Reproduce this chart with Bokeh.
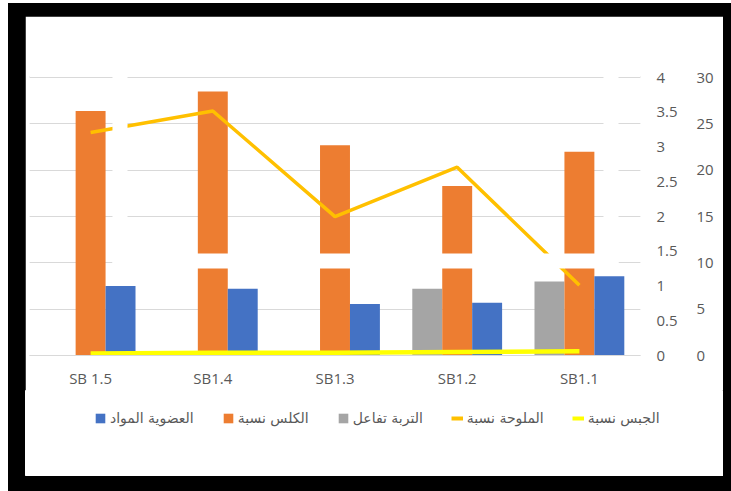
from bokeh.plotting import figure
from bokeh.models import (FactorRange, Range1d, LinearAxis, FixedTicker, Grid,
                          Legend, LegendItem, BoxAnnotation, ColumnDataSource)
from bokeh.transform import dodge
from bokeh.layouts import column
from bokeh.embed import file_html
from bokeh.resources import INLINE

# ---- data ----
categories = ["SB 1.5", "SB1.4", "SB1.3", "SB1.2", "SB1.1"]
organic = [1.00, 0.96, 0.74, 0.76, 1.14]     # blue bars, 0-4 axis
lime = [26.4, 28.5, 22.7, 18.3, 22.0]        # orange bars, 0-30 axis
ph = [0, 0, 0, 7.2, 8.0]                     # gray bars, 0-30 axis
salinity = [3.21, 3.52, 2.00, 2.71, 1.01]    # gold line, 0-4 axis
gypsum = [0.03, 0.04, 0.04, 0.05, 0.06]      # yellow line, 0-4 axis

series_labels = ["العضوية المواد", "الكلس نسبة", "التربة تفاعل", "الملوحة نسبة", "الجبس نسبة"]
series_colors = ["#4472C4", "#ED7D31", "#A5A5A5", "#FFC000", "#FFFF00"]
ticks4 = [0, 0.5, 1, 1.5, 2, 2.5, 3, 3.5, 4]
ticks30 = [0, 5, 10, 15, 20, 25, 30]

TXT = "#595959"
FONT = "Open Sans"

src = ColumnDataSource(dict(cat=categories, organic=organic, lime=lime, ph=ph,
                            salinity=salinity, gypsum=gypsum))

# ---------------- main chart ----------------
# ranges extended by 0.4 % so the top gridline sits just inside the frame
p = figure(x_range=FactorRange(*categories), y_range=Range1d(0, 30.12),
           width=698, height=374, output_backend="svg", toolbar_location=None,
           y_axis_location=None, min_border_left=4, min_border_right=83,
           min_border_top=60, min_border_bottom=35)
p.frame_align = False
p.extra_y_ranges = {"y4": Range1d(0, 4.016)}
p.outline_line_color = "white"
p.outline_line_width = 1
p.background_fill_color = "white"
p.border_fill_color = "white"
p.xgrid.visible = False
p.add_layout(Grid(dimension=1, ticker=FixedTicker(ticks=ticks30),
                  grid_line_color="#D9D9D9", grid_line_width=1.2))

ax4 = LinearAxis(y_range_name="y4", ticker=FixedTicker(ticks=ticks4),
                 major_label_overrides={t: f"{t:g}" for t in ticks4})
ax30 = LinearAxis(ticker=FixedTicker(ticks=ticks30),
                  major_label_overrides={t: f"{t:g}" for t in ticks30})
for ax in (ax4, ax30):
    ax.axis_line_color = None
    ax.major_tick_line_color = None
    ax.minor_tick_line_color = None
    ax.major_label_text_font = FONT
    ax.major_label_text_font_size = "15px"
    ax.major_label_text_color = TXT
    ax.major_label_standoff = 10
p.add_layout(ax4, "right")
p.add_layout(ax30, "right")

xa = p.xaxis[0]
xa.axis_line_color = "#D9D9D9"
xa.axis_line_width = 1.2
xa.major_tick_line_color = None
xa.minor_tick_line_color = None
xa.major_label_text_font = FONT
xa.major_label_text_font_size = "15px"
xa.major_label_text_color = TXT
xa.major_label_standoff = 6

w = 0.245
r_gray = p.vbar(x=dodge("cat", -w, range=p.x_range), top="ph", width=w, source=src,
                fill_color=series_colors[2], line_color=None)
r_orange = p.vbar(x="cat", top="lime", width=w, source=src,
                  fill_color=series_colors[1], line_color=None)
r_blue = p.vbar(x=dodge("cat", w, range=p.x_range), top="organic", width=w, source=src,
                y_range_name="y4", fill_color=series_colors[0], line_color=None)
r_gyp = p.line(x="cat", y="gypsum", source=src, y_range_name="y4",
               line_color=series_colors[4], line_width=4.5)
r_sal = p.line(x="cat", y="salinity", source=src, y_range_name="y4",
               line_color=series_colors[3], line_width=3.5)

# white cut-out strips visible in the reference picture
for l, r, b, t in [(0.679, 0.802, 9.39, None), (4.697, 4.82, 9.39, None),
                   (0.679, 4.82, 9.39, 11.0)]:
    kw = dict(left=l, right=r, bottom=b, fill_color="white", fill_alpha=1.0,
              line_color=None, line_alpha=0)
    if t is not None:
        kw["top"] = t
    p.add_layout(BoxAnnotation(**kw))

# ---------------- legend strip (same series, drawn out of view) ----------------
lg = figure(width=698, height=86, output_backend="svg", toolbar_location=None,
            x_axis_location=None, y_axis_location=None, min_border=0,
            x_range=FactorRange(*categories), y_range=Range1d(1000, 1001))
lg.frame_align = False
lg.outline_line_color = "white"
lg.grid.visible = False
lg.border_fill_color = "white"
e_blue = lg.vbar(x="cat", top="organic", width=w, source=src, fill_color=series_colors[0], line_color=None)
e_orange = lg.vbar(x="cat", top="lime", width=w, source=src, fill_color=series_colors[1], line_color=None)
e_gray = lg.vbar(x="cat", top="ph", width=w, source=src, fill_color=series_colors[2], line_color=None)
e_sal = lg.line(x="cat", y="salinity", source=src, line_color=series_colors[3], line_width=4)
e_gyp = lg.line(x="cat", y="gypsum", source=src, line_color=series_colors[4], line_width=4)

legend = Legend(items=[LegendItem(label=series_labels[0], renderers=[e_blue]),
                       LegendItem(label=series_labels[1], renderers=[e_orange]),
                       LegendItem(label=series_labels[2], renderers=[e_gray]),
                       LegendItem(label=series_labels[3], renderers=[e_sal]),
                       LegendItem(label=series_labels[4], renderers=[e_gyp])],
                orientation="horizontal", location=(69, 50),
                glyph_width=12, glyph_height=12, label_height=12,
                label_standoff=4, spacing=28, padding=0, margin=0,
                border_line_color=None, background_fill_alpha=0,
                label_text_font="DejaVu Sans", label_text_font_size="14px",
                label_text_color=TXT)
lg.add_layout(legend, "center")

layout = column(p, lg, margin=(3, 0, 0, 8),
                styles={"background-color": "black", "padding": "13px 8px 15px 17px"})

open("out.html", "w").write(file_html(layout, INLINE))
